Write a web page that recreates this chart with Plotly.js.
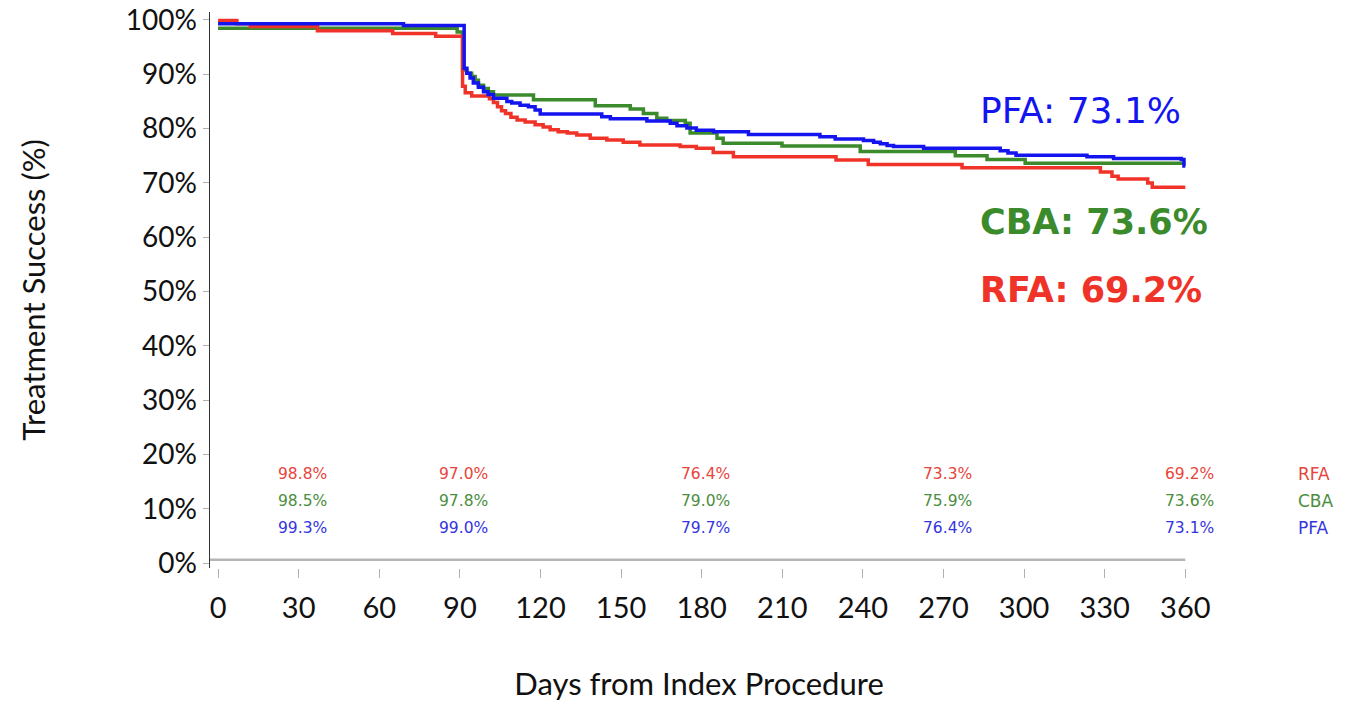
<!DOCTYPE html>
<html>
<head>
<meta charset="utf-8">
<script src="https://cdn.plot.ly/plotly-3.0.1.min.js"></script>
<style>
html,body{margin:0;padding:0;background:#fff;}
#chart{width:1357px;height:702px;}
</style>
</head>
<body>
<div id="chart"></div>
<script>
// ---- Data ----
var rfaDays = [0, 7, 12, 37, 65, 81, 91, 92, 94.4, 101, 102.5, 104, 105.5, 107, 109, 111.3, 114.3, 118, 121, 123.6, 126.6, 130, 133.5, 138.5, 144.7, 150.8, 157, 172, 178, 184.3, 191.8, 230, 242, 276.9, 328.4, 332.7, 335, 346, 347.7, 360];
var rfaVals = [99.9, 99.3, 98.8, 98.0, 97.5, 97.0, 87.8, 86.6, 86.0, 85.5, 84.8, 84.0, 83.3, 82.8, 82.1, 81.6, 81.2, 80.7, 80.3, 79.8, 79.4, 79.2, 78.8, 78.2, 77.9, 77.5, 77.0, 76.7, 76.4, 75.6, 74.8, 74.2, 73.4, 72.8, 72.0, 71.2, 70.7, 70.0, 69.2, 69.2];

var cbaDays = [0, 89, 91, 92.6, 94.4, 95.7, 96.9, 98.8, 100.6, 102.5, 117.4, 140.4, 153.4, 158.3, 163.3, 167, 173.9, 175.7, 185.7, 188, 209.9, 239, 274.4, 286.2, 300.4, 360];
var cbaVals = [98.5, 97.8, 90.8, 90.2, 89.6, 88.9, 88.0, 87.4, 86.8, 86.2, 85.3, 84.2, 83.6, 82.8, 81.9, 81.5, 81.0, 79.2, 78.2, 77.3, 76.8, 75.8, 75.0, 74.3, 73.6, 73.6];

var pfaDays = [0, 69, 91.6, 92.6, 93.8, 95.0, 96.9, 98.8, 100.5, 102.5, 107.5, 109.3, 112.4, 115.5, 118, 119.9, 142.8, 146, 159.6, 168.3, 170.8, 174.5, 178, 184.4, 197.4, 224, 229.7, 240.2, 244, 246.5, 249, 251.4, 262.6, 291.1, 294, 297, 323.4, 333.3, 358.5, 359.5, 360];
var pfaVals = [99.3, 99.0, 91.1, 90.2, 89.3, 88.4, 87.6, 86.8, 86.3, 85.6, 85.0, 84.7, 84.3, 84.0, 83.4, 82.7, 82.2, 81.8, 81.4, 81.0, 80.5, 80.1, 79.7, 79.4, 78.9, 78.5, 78.1, 77.8, 77.5, 77.2, 76.9, 76.7, 76.4, 75.9, 75.5, 75.1, 74.8, 74.5, 74.3, 73.1, 73.1];

var tableDays = [30, 90, 180, 270, 360];
var rfaTable = ["98.8%", "97.0%", "76.4%", "73.3%", "69.2%"];
var cbaTable = ["98.5%", "97.8%", "79.0%", "75.9%", "73.6%"];
var pfaTable = ["99.3%", "99.0%", "79.7%", "76.4%", "73.1%"];

var groupNames = ["RFA", "CBA", "PFA"];
var finalLabels = ["RFA: 69.2%", "CBA: 73.6%", "PFA: 73.1%"];
var xTicks = [0, 30, 60, 90, 120, 150, 180, 210, 240, 270, 300, 330, 360];
var yTicks = [0, 10, 20, 30, 40, 50, 60, 70, 80, 90, 100];
var yTickText = ["0%", "10%", "20%", "30%", "40%", "50%", "60%", "70%", "80%", "90%", "100%"];

// ---- Styles ----
var RED = "#ef3328", GREEN = "#3b8a2c", BLUE = "#1414ee";
var tRED = "#e8453c", tGREEN = "#4a8e3e", tBLUE = "#3535e0";
var axisFont = "Lato, 'Open Sans', sans-serif";
var annFont = "'DejaVu Sans', Verdana, sans-serif";

function stepTrace(x, y, color, name) {
  return {x: x, y: y, type: "scatter", mode: "lines", name: name,
          line: {shape: "hv", color: color, width: 3.5}, hoverinfo: "x+y"};
}

var traces = [
  stepTrace(cbaDays, cbaVals, GREEN, "CBA"),
  stepTrace(rfaDays, rfaVals, RED, "RFA"),
  stepTrace(pfaDays, pfaVals, BLUE, "PFA")
];

var annotations = [];
var rowY = [16.4, 11.4, 6.4];
var tables = [rfaTable, cbaTable, pfaTable];
var tColors = [tRED, tGREEN, tBLUE];
for (var r = 0; r < 3; r++) {
  for (var i = 0; i < tableDays.length; i++) {
    annotations.push({x: tableDays[i], y: rowY[r], xref: "x", yref: "y", text: tables[r][i],
      showarrow: false, xanchor: "center", yanchor: "middle", xshift: 4,
      font: {family: annFont, size: 15.5, color: tColors[r]}});
  }
  annotations.push({x: 1.11, y: rowY[r], xref: "paper", yref: "y", text: groupNames[r],
    showarrow: false, xanchor: "left", yanchor: "middle",
    font: {family: annFont, size: 17, color: tColors[r]}});
}
// big final labels
annotations.push({x: 0.785, y: 83.4, xref: "paper", yref: "y", text: finalLabels[2], showarrow: false,
  xanchor: "left", yanchor: "middle", font: {family: annFont, size: 36, color: BLUE}});
annotations.push({x: 0.785, y: 62.8, xref: "paper", yref: "y", text: "<b>" + finalLabels[1] + "</b>", showarrow: false,
  xanchor: "left", yanchor: "middle", font: {family: annFont, size: 35, color: GREEN}});
annotations.push({x: 0.785, y: 50.3, xref: "paper", yref: "y", text: "<b>" + finalLabels[0] + "</b>", showarrow: false,
  xanchor: "left", yanchor: "middle", font: {family: annFont, size: 35, color: RED}});

var layout = {
  width: 1357, height: 702,
  margin: {l: 210, r: 169, t: 12, b: 134},
  paper_bgcolor: "#fff", plot_bgcolor: "#fff",
  showlegend: false,
  xaxis: {
    range: [-3, 361], tickmode: "array", tickvals: xTicks, ticks: "outside", ticklen: 9, tickwidth: 1,
    tickcolor: "#b0b0b0", showline: false, showgrid: false, zeroline: false,
    ticklabelstandoff: 5,
    tickfont: {family: axisFont, size: 29, color: "#111"},
    title: {text: "Days from Index Procedure", standoff: 50, font: {family: axisFont, size: 31, color: "#111"}}
  },
  yaxis: {
    range: [-0.92, 101.47], tickmode: "array", tickvals: yTicks, ticktext: yTickText,
    ticks: "outside", ticklen: 6,
    tickcolor: "#b0b0b0", showline: true, linecolor: "#333", linewidth: 1.5,
    showgrid: false, zeroline: false, automargin: false,
    tickfont: {family: axisFont, size: 28, color: "#111"},
    title: {text: "Treatment Success (%)", standoff: 71, font: {family: axisFont, size: 31, color: "#111"}}
  },
  shapes: [{type: "line", xref: "x", yref: "y", x0: -3, x1: 360, y0: 0.6, y1: 0.6,
            line: {color: "#b5b5b5", width: 2.5}}],
  annotations: annotations
};

Plotly.newPlot("chart", traces, layout, {displayModeBar: false, staticPlot: true});
</script>
</body>
</html>
